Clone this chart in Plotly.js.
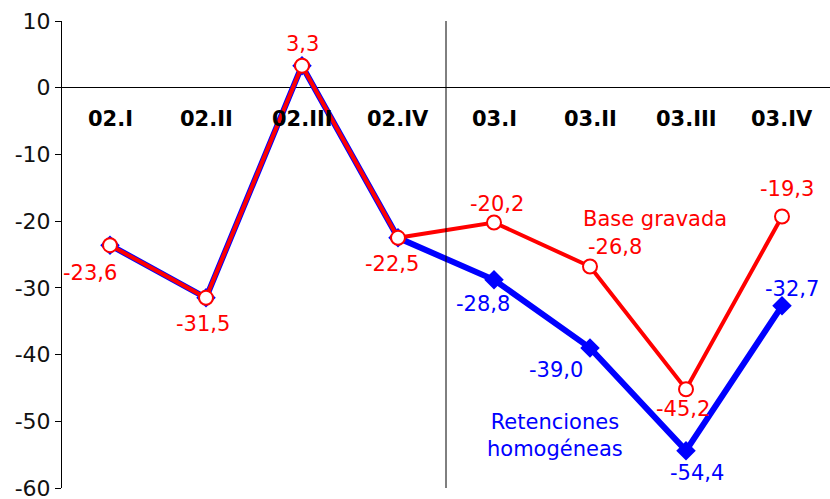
<!DOCTYPE html>
<html>
<head>
<meta charset="utf-8">
<script src="https://cdn.plot.ly/plotly-3.0.1.min.js"></script>
<style>html,body{margin:0;padding:0;background:#fff;}#chart{width:830px;height:499px;}</style>
</head>
<body>
<div id="chart"></div>
<script>
var categories = ["02.I","02.II","02.III","02.IV","03.I","03.II","03.III","03.IV"];
var baseGravada = [-23.6, -31.5, 3.3, -22.5, -20.2, -26.8, -45.2, -19.3];
var retenciones = [-23.6, -31.5, 3.3, -22.5, -28.8, -39.0, -54.4, -32.7];
var yTicks = [10, 0, -10, -20, -30, -40, -50, -60];

// label offsets (pixels) per point
var redOffsets = [[-20,-28],[-3,-26],[0,22],[-6,-26],[3,18],[25,20],[-3,-20],[5,27]];
var blueOffsets = [null,null,null,null,[-11,-24],[-34,-22],[11,-22],[10,17]];

function fmt(v){ return v.toFixed(1).replace('.', ','); }

var FONT = "DejaVu Sans, Verdana, sans-serif";
var annotations = [];
categories.forEach(function(c, i){
  annotations.push({x: c, y: 0, xref:'x', yref:'y', text: c, showarrow:false,
    xanchor:'center', yanchor:'middle', yshift:-31,
    font:{family:FONT, size:21, color:'#000', weight:'bold'}});
  annotations.push({x: c, y: baseGravada[i], xref:'x', yref:'y', text: fmt(baseGravada[i]), showarrow:false,
    xanchor:'center', yanchor:'middle', xshift: redOffsets[i][0], yshift: redOffsets[i][1],
    font:{family:FONT, size:21, color:'#ff0000'}});
  if (blueOffsets[i]) {
    annotations.push({x: c, y: retenciones[i], xref:'x', yref:'y', text: fmt(retenciones[i]), showarrow:false,
      xanchor:'center', yanchor:'middle', xshift: blueOffsets[i][0], yshift: blueOffsets[i][1],
      font:{family:FONT, size:21, color:'#0000ff'}});
  }
});
annotations.push({x:0.772, y:0.576, xref:'paper', yref:'paper', text:'Base gravada', showarrow:false,
  xanchor:'center', yanchor:'middle', font:{family:FONT, size:21, color:'#ff0000'}});
annotations.push({x:0.642, y:0.113, xref:'paper', yref:'paper', text:'Retenciones<br>homogéneas', showarrow:false,
  xanchor:'center', yanchor:'middle', align:'center', font:{family:FONT, size:21, color:'#0000ff'}});

var traces = [
  {x: categories, y: retenciones, type:'scatter', mode:'lines+markers', name:'Retenciones homogéneas',
   line:{color:'#0000ff', width:6}, marker:{symbol:'diamond', size:15, color:'#0000ff'}},
  {x: categories, y: baseGravada, type:'scatter', mode:'lines+markers', name:'Base gravada',
   line:{color:'#ff0000', width:4}, marker:{symbol:'circle', size:14, color:'#ffffff', line:{color:'#ff0000', width:2}}}
];

var layout = {
  width:830, height:499,
  margin:{l:62, r:0, t:21, b:11},
  paper_bgcolor:'#fff', plot_bgcolor:'#fff',
  showlegend:false,
  xaxis:{type:'category', range:[-0.5, 7.5], showticklabels:false, showgrid:false, zeroline:false, showline:false, ticks:''},
  yaxis:{range:[-60, 10], tickvals:yTicks, ticktext:yTicks.map(String), showgrid:false,
    zeroline:true, zerolinecolor:'#000', zerolinewidth:1,
    showline:true, linecolor:'#000', linewidth:1, ticks:'outside', ticklen:6, tickcolor:'#000',
    ticklabeloverflow:'allow', automargin:false,
    tickfont:{family:FONT, size:22, color:'#111'}},
  shapes:[{type:'line', xref:'x', yref:'y', x0:3.5, x1:3.5, y0:-60, y1:10, line:{color:'#000', width:1}}],
  annotations: annotations
};

Plotly.newPlot('chart', traces, layout, {displayModeBar:false, staticPlot:true});
</script>
</body>
</html>
